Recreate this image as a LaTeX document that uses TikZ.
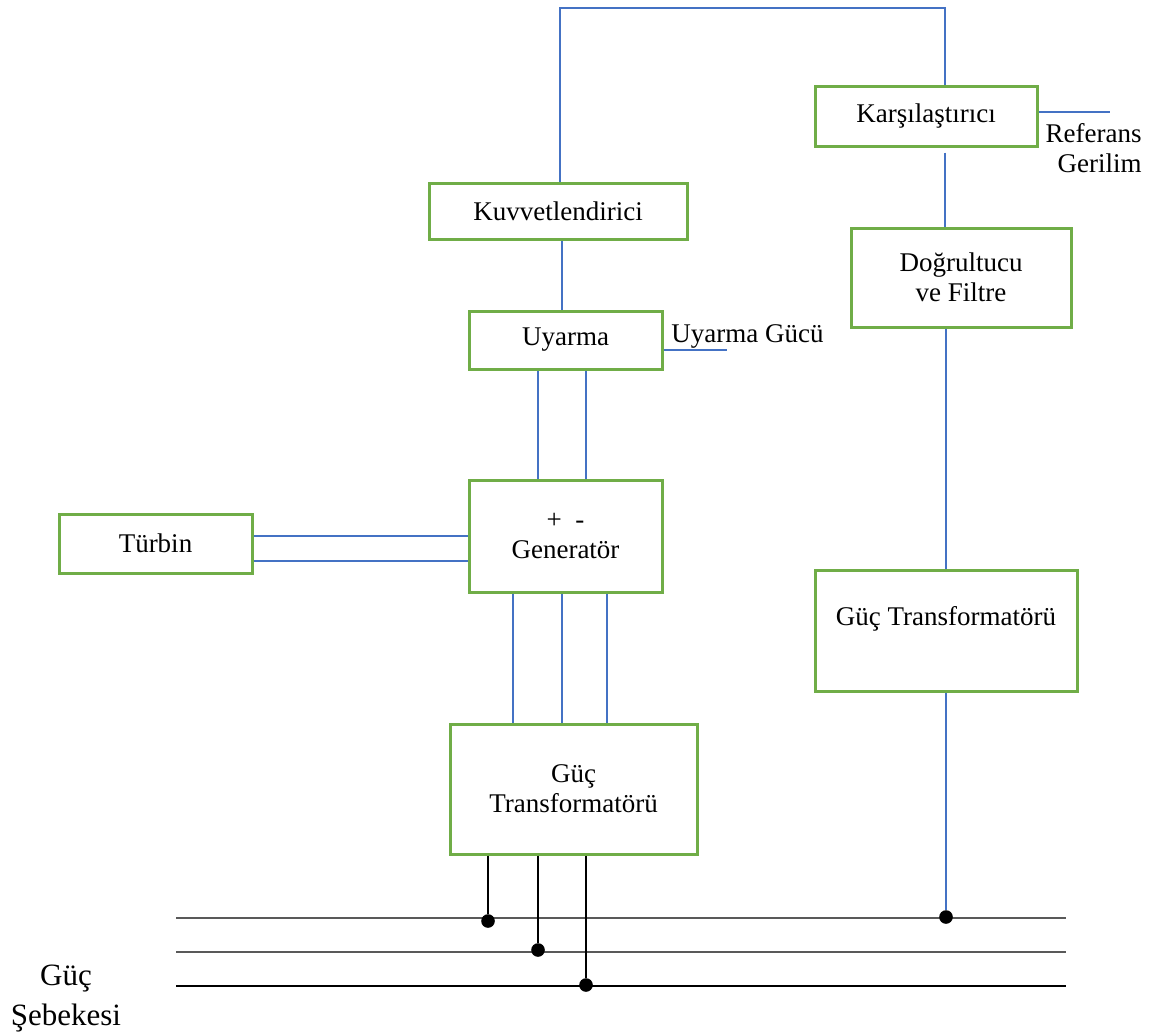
\documentclass[tikz,border=0pt]{standalone}
\usepackage{fontspec}
\setmainfont{Liberation Serif}
\usepackage{tikz}

\definecolor{kutuyesil}{HTML}{70AD47}
\definecolor{hatmavi}{HTML}{4472C4}
\definecolor{baragri}{HTML}{595959}

\begin{document}
\begin{tikzpicture}[x=0.5pt,y=-0.5pt,
  blok/.style={draw=kutuyesil,line width=1.5pt,fill=white,align=center,inner sep=2pt,font=\fontsize{13.5}{15}\selectfont},
  mavi/.style={draw=hatmavi,line width=0.6pt},
  siyah/.style={draw=black,line width=0.6pt},
  bara/.style={line width=0.9pt},
  nokta/.style={circle,fill=black,inner sep=0pt,minimum size=6.8pt},
  yazi/.style={inner sep=0pt,font=\fontsize{13.5}{15}\selectfont}]

\useasboundingbox (0,0) rectangle (1155,1035);

% ---------------- BLOCKS ----------------

\node[blok,minimum width=111pt,minimum height=30pt] (kars) at (926,116) {Karşılaştırıcı};
\node[blok,minimum width=129pt,minimum height=28pt] (kuvv) at (558,211) {Kuvvetlendirici};
\node[blok,minimum width=110pt,minimum height=49.5pt] (dogr) at (961,277.5) {Doğrultucu\\ve Filtre};
\node[blok,minimum width=96.5pt,minimum height=29pt] (uyar) at (565.5,340) {Uyarma};
\node[blok,minimum width=96.5pt,minimum height=29.5pt] (turb) at (155.5,543.5) {Türbin};
\node[blok,minimum width=96.5pt,minimum height=56pt] (gen) at (565.5,536) {+\ \ -\\Generatör};
\node[blok,minimum width=131pt,minimum height=60.5pt] (trsag) at (946,630.5) {Güç Transformatörü\\\mbox{}};
\node[blok,minimum width=123.5pt,minimum height=65pt] (tralt) at (573.5,789) {Güç\\Transformatörü};

% ---------------- LABELS ----------------

\node[yazi,anchor=base west] (ugyazi) at (671,342) {Uyarma Gücü};
\node[yazi,anchor=base east,align=right] (refyazi) at (1142,172) {Referans\\Gerilim};
\node[inner sep=0pt,anchor=base,align=center,font=\fontsize{15.5}{20}\selectfont] (sebeke) at (66,1025) {Güç\\Şebekesi};

% ---------------- CONTROL LOOP ----------------

\coordinate (tepe) at (750,8);
\draw[mavi] (kuvv.north -| 560,0) |- (tepe) -| (kars.north -| 945,0);
\draw[mavi] ([yshift=-2.5pt]kars.south -| 945,0) -- (dogr.north -| 945,0);
\coordinate (ref) at (1110,112);
\draw[mavi] (kars.east |- ref) -- (ref);
\draw[mavi] (kuvv.south -| 562,0) -- (uyar.north -| 562,0);
\coordinate (ug) at (727,350);
\draw[mavi] (uyar.east |- ug) -- (ug);
\draw[mavi] (uyar.south -| 538,0) -- (gen.north -| 538,0);
\draw[mavi] (uyar.south -| 586,0) -- (gen.north -| 586,0);
\draw[mavi] (turb.east |- 0,536) -- (gen.west |- 0,536);
\draw[mavi] (turb.east |- 0,561) -- (gen.west |- 0,561);
\draw[mavi] (gen.south -| 513,0) -- (tralt.north -| 513,0);
\draw[mavi] (gen.south -| 562,0) -- (tralt.north -| 562,0);
\draw[mavi] (gen.south -| 607,0) -- (tralt.north -| 607,0);
\draw[mavi] (dogr.south -| 946,0) -- (trsag.north -| 946,0);

% ---------------- GRID ----------------

\coordinate (b1s) at (176,918); \coordinate (b1e) at (1066,918);
\coordinate (b2s) at (176,952); \coordinate (b2e) at (1066,952);
\coordinate (b3s) at (176,986); \coordinate (b3e) at (1066,986);
\draw[bara,baragri] (b1s) -- (b1e);
\draw[bara,baragri] (b2s) -- (b2e);
\draw[bara,black] (b3s) -- (b3e);

\node[nokta] (d1) at (488,921) {};
\node[nokta] (d2) at (538,950) {};
\node[nokta] (d3) at (586,985) {};
\node[nokta] (d4) at (946,917) {};

\draw[siyah] (tralt.south -| d1) -- (d1);
\draw[siyah] (tralt.south -| d2) -- (d2);
\draw[siyah] (tralt.south -| d3) -- (d3);
\draw[mavi] (trsag.south -| d4) -- (d4);

\end{tikzpicture}
\end{document}
